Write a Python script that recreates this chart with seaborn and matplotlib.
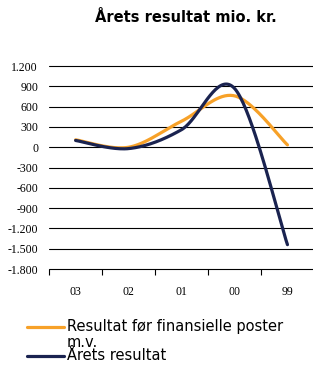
import numpy as np
import pandas as pd
import matplotlib.pyplot as plt
import seaborn as sns
from matplotlib.lines import Line2D

years = ["03", "02", "01", "00", "99"]
resultat_foer = [110, 0, 385, 760, 35]
aarets_resultat = [100, -20, 260, 870, -1440]
y_ticks = [1200, 900, 600, 300, 0, -300, -600, -900, -1200, -1500, -1800]
y_labels = ["1.200", "900", "600", "300", "0", "-300", "-600", "-900", "-1.200", "-1.500", "-1.800"]

orange = "#F7A128"
navy = "#1A2350"


def smooth(vals, steps=40):
    # Excel-style smoothed line: cubic Bezier through each point
    p = np.column_stack([np.arange(len(vals)), vals]).astype(float)
    pts = []
    for i in range(len(p) - 1):
        p0 = p[i - 1] if i > 0 else p[i]
        p3 = p[i + 2] if i + 2 < len(p) else p[i + 1]
        c1 = p[i] + (p[i + 1] - p0) / 6
        c2 = p[i + 1] - (p3 - p[i]) / 6
        t = np.linspace(0, 1, steps)[:, None]
        seg = ((1 - t) ** 3 * p[i] + 3 * (1 - t) ** 2 * t * c1
               + 3 * (1 - t) * t ** 2 * c2 + t ** 3 * p[i + 1])
        pts.append(seg if i == 0 else seg[1:])
    pts = np.vstack(pts)
    return pd.DataFrame({"x": pts[:, 0], "y": pts[:, 1]})


sns.set_style("white")
plt.rcParams['font.family'] = ['DejaVu Sans']
plt.rcParams['text.color'] = 'black'
plt.rcParams['xtick.color'] = 'black'
plt.rcParams['ytick.color'] = 'black'

fig = plt.figure(figsize=(3.13, 3.67), dpi=100)
ax = fig.add_axes([0.157, 0.267, 0.846, 0.553])

sns.lineplot(data=smooth(resultat_foer), x="x", y="y", sort=False, ax=ax,
             color=orange, linewidth=2.3)
sns.lineplot(data=smooth(aarets_resultat), x="x", y="y", sort=False, ax=ax,
             color=navy, linewidth=2.3)

ax.set_ylim(-1800, 1200)
ax.set_xlim(-0.5, 4.5)
for v in y_ticks:
    ax.axhline(v, color="black", linewidth=0.8, zorder=0, clip_on=False)
ax.set_yticks(y_ticks)
ax.set_yticklabels(y_labels, family="Liberation Serif", fontsize=8.5)
ax.tick_params(axis="y", length=0, pad=8)
ax.set_xticks(range(len(years)))
ax.set_xticklabels(years, family="Liberation Serif", fontsize=8.5)
ax.tick_params(axis="x", which="major", length=0, pad=12)
ax.set_xticks(np.arange(-0.5, 5, 1), minor=True)
ax.tick_params(axis="x", which="minor", bottom=True, length=4, width=0.8,
               color="black", direction="out")
ax.set_xlabel("")
ax.set_ylabel("")
for s in ax.spines.values():
    s.set_visible(False)

fig.text(0.595, 0.951, "Årets resultat mio. kr.", ha="center", va="center",
         fontsize=10.5, fontweight="bold")

# legend
fig.add_artist(Line2D([0.087, 0.205], [0.109, 0.109], color=orange, linewidth=2.3))
fig.add_artist(Line2D([0.087, 0.205], [0.030, 0.030], color=navy, linewidth=2.3))
fig.text(0.214, 0.109, "Resultat før finansielle poster", ha="left", va="center", fontsize=10.5)
fig.text(0.214, 0.068, "m.v.", ha="left", va="center", fontsize=10.5)
fig.text(0.214, 0.030, "Årets resultat", ha="left", va="center", fontsize=10.5)

fig.savefig("out.png", dpi=100)
